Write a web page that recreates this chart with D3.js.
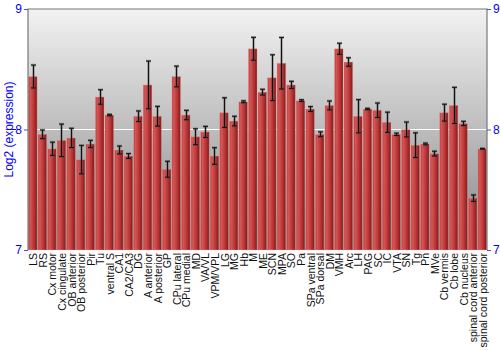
<!DOCTYPE html>
<html lang="en">
<head>
    <meta charset="utf-8" />
    <title>Expression by brain region</title>
    <script src="https://cdn.jsdelivr.net/npm/d3@7"></script>
    <style>
        body {
            margin: 0;
            background: #fff;
            font-family: "Liberation Sans", Arial, sans-serif;
        }
    </style>
</head>
<body>
<svg id="chart" width="500" height="350"></svg>
<script>
    // region names, one bar each
    const regions = [
        "LS", "RS", "Cx motor", "Cx cingulate", "OB anterior", "OB posterior", "Pir", "Tu",
        "ventral S", "CA1", "CA2/CA3", "DG", "A anterior", "A posterior", "GP", "CPu lateral",
        "CPu medial", "MD", "VA/VL", "VPM/VPL", "LG", "MG", "Hb", "M", "ME", "SCN", "MPA",
        "SO", "Pa", "SPa ventral", "SPa dorsal", "DM", "VMH", "Arc", "LH", "PAG", "SC", "IC",
        "VTA", "SN", "Tg", "Pn", "MVe", "Cb vermis", "Cb lobe", "Cb nucleus",
        "spinal cord anterior", "spinal cord posterior"
    ];

    // mean log2 expression per region
    const means = [
        8.44, 7.96, 7.84, 7.91, 7.93, 7.75, 7.88, 8.27,
        8.12, 7.83, 7.78, 8.11, 8.37, 8.11, 7.67, 8.44,
        8.12, 7.94, 7.98, 7.78, 8.14, 8.07, 8.23, 8.67, 8.31, 8.43, 8.55,
        8.37, 8.24, 8.17, 7.96, 8.20, 8.67, 8.56, 8.11, 8.17, 8.16, 8.06,
        7.96, 8.00, 7.87, 7.88, 7.80, 8.14, 8.20, 8.05,
        7.43, 7.84
    ];

    // half-height of each error bar
    const errors = [
        0.095, 0.036, 0.055, 0.135, 0.08, 0.118, 0.03, 0.06,
        0.006, 0.033, 0.02, 0.044, 0.198, 0.082, 0.066, 0.086,
        0.039, 0.066, 0.046, 0.069, 0.123, 0.04, 0.008, 0.095, 0.024, 0.19, 0.214,
        0.03, 0.007, 0.02, 0.02, 0.037, 0.046, 0.035, 0.138, 0.006, 0.06, 0.084,
        0.01, 0.062, 0.102, 0.007, 0.02, 0.07, 0.15, 0.018,
        0.027, 0.003
    ];

    const yTicks = [7, 8, 9];

    const plotL = 28, plotR = 487, plotT = 9, plotB = 250;
    const svg = d3.select("#chart");

    const x = d3.scaleBand()
        .domain(regions)
        .range([plotL, plotR])
        .paddingInner(0.1)
        .paddingOuter(0.05);

    const y = d3.scaleLinear()
        .domain([7, 9])
        .range([plotB, plotT]);

    const defs = svg.append("defs");

    // plot background: light at the top, darker at the bottom
    const bg = defs.append("linearGradient")
        .attr("id", "bg")
        .attr("x1", 0).attr("y1", 0).attr("x2", 0).attr("y2", 1);
    bg.append("stop").attr("offset", "0%").attr("stop-color", "#f2f2f2");
    bg.append("stop").attr("offset", "100%").attr("stop-color", "#878787");

    // bar shading, a bit like a cylinder
    const barGrad = defs.append("linearGradient")
        .attr("id", "bar")
        .attr("x1", 0).attr("y1", 0).attr("x2", 1).attr("y2", 0);
    barGrad.append("stop").attr("offset", "0%").attr("stop-color", "#b53838");
    barGrad.append("stop").attr("offset", "20%").attr("stop-color", "#d45656");
    barGrad.append("stop").attr("offset", "55%").attr("stop-color", "#c03a3a");
    barGrad.append("stop").attr("offset", "85%").attr("stop-color", "#992424");
    barGrad.append("stop").attr("offset", "100%").attr("stop-color", "#741616");

    svg.append("rect")
        .attr("x", plotL)
        .attr("y", plotT)
        .attr("width", plotR - plotL)
        .attr("height", plotB - plotT)
        .attr("fill", "url(#bg)");

    // white grid line at 8
    svg.append("line")
        .attr("x1", plotL).attr("x2", plotR)
        .attr("y1", y(8)).attr("y2", y(8))
        .attr("stroke", "#fff")
        .attr("stroke-width", 1.2);

    // bars
    svg.append("g")
        .selectAll("rect")
        .data(regions)
        .join("rect")
        .attr("x", d => x(d))
        .attr("y", (d, i) => y(means[i]))
        .attr("width", x.bandwidth())
        .attr("height", (d, i) => plotB - y(means[i]))
        .attr("fill", "url(#bar)")
        .attr("stroke", "rgba(255,170,170,0.35)")
        .attr("stroke-width", 1);

    // error bars: grey halo under a black line
    const err = svg.append("g");
    regions.forEach((d, i) => {
        const cx = Math.round(x(d) + x.bandwidth() / 2) + 0.5;
        const y1 = y(means[i] + errors[i]);
        const y2 = y(means[i] - errors[i]);
        [["rgba(80,80,80,0.45)", 2.6], ["#111", 1]].forEach(([c, w]) => {
            err.append("line")
                .attr("x1", cx).attr("x2", cx).attr("y1", y1).attr("y2", y2)
                .attr("stroke", c).attr("stroke-width", w);
            [y1, y2].forEach(yy => {
                err.append("line")
                    .attr("x1", cx - 2.5).attr("x2", cx + 2.5)
                    .attr("y1", yy).attr("y2", yy)
                    .attr("stroke", c).attr("stroke-width", w);
            });
        });
    });

    // frame
    svg.append("path")
        .attr("d", `M${plotL},${plotB}V${plotT}H${plotR}V${plotB}`)
        .attr("fill", "none")
        .attr("stroke", "#777")
        .attr("stroke-width", 1.2);

    // y axes on both sides
    const axisL = svg.append("g")
        .attr("transform", `translate(${plotL},0)`)
        .call(d3.axisLeft(y).tickValues(yTicks).tickFormat(d3.format("d")).tickSize(4).tickPadding(2));
    const axisR = svg.append("g")
        .attr("transform", `translate(${plotR},0)`)
        .call(d3.axisRight(y).tickValues(yTicks).tickFormat(d3.format("d")).tickSize(4).tickPadding(2));
    [axisL, axisR].forEach(a => {
        a.select(".domain").remove();
        a.selectAll(".tick line").attr("stroke", "#4455bb");
        a.selectAll("text")
            .attr("fill", "#0000ff")
            .style("font-family", "'Liberation Sans', Arial, sans-serif")
            .style("font-size", "12px");
    });

    // x labels, rotated
    svg.append("g")
        .selectAll("text")
        .data(regions)
        .join("text")
        .attr("transform", d => `translate(${x(d) + x.bandwidth() / 2 + 4.5},${plotB + 3}) rotate(-90)`)
        .attr("text-anchor", "end")
        .attr("fill", "#111")
        .style("font-size", "10.5px")
        .text(d => d);

    svg.append("text")
        .attr("transform", `translate(12.5,${(plotT + plotB) / 2}) rotate(-90)`)
        .attr("text-anchor", "middle")
        .attr("fill", "#0000ff")
        .style("font-size", "12px")
        .text("Log2 (expression)");
</script>
</body>
</html>
